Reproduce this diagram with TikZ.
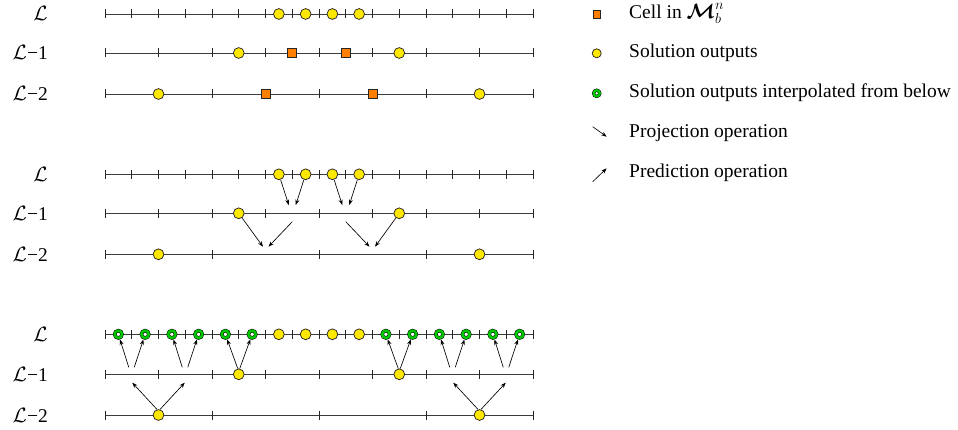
\documentclass[tikz,border=0pt]{standalone}
\usepackage{amsmath}
\usepackage{bm}
\usepackage{fontspec}
\setmainfont{Liberation Serif}
\usetikzlibrary{arrows.meta,calc}
\definecolor{solyel}{RGB}{255,232,0}
\definecolor{cellor}{RGB}{255,127,0}
\definecolor{intgreen}{RGB}{0,200,0}
\definecolor{axisgray}{RGB}{60,60,60}
\newcommand{\mylevel}[3]{%
  \coordinate (#1-a) at (105,#2);
  \coordinate (#1-b) at (533,#2);
  \draw[axisline] (#1-a) -- (#1-b);
  \foreach \k in {0,...,#3}{\draw[tickmark] ({105+\k*428/#3},{#2-4.5}) -- ++(0,9);}
  \foreach \k in {1,...,#3}{\coordinate (#1-\k) at ({105+(\k-0.5)*428/#3},#2);}
}
\tikzset{
  axisline/.style={draw=axisgray, line width=0.9pt},
  tickmark/.style={draw=black!85, line width=1pt},
  sol/.style={circle, draw=black!85, fill=solyel, line width=0.75pt, minimum size=10.8pt, inner sep=0pt},
  cellsq/.style={rectangle, draw=black!85, fill=cellor, line width=0.75pt, minimum size=9pt, inner sep=0pt},
  interp/.style={circle, draw=black, line width=0.5pt, double=intgreen, double distance=2.5pt, fill=white, minimum size=7.4pt, inner sep=0pt, outer sep=1.7pt},
  arr/.style={-{Stealth[length=5.5pt,width=4pt]}, line width=0.65pt, black},
  lvllabel/.style={anchor=base east, inner sep=0pt},
  legtext/.style={anchor=base west, inner sep=0pt},
  every node/.style={font=\fontsize{19.5}{22}\selectfont}
}
\begin{document}
\begin{tikzpicture}[x=1pt,y=-1pt]
\useasboundingbox (0,0) rectangle (958,430);
% ---------- panel A ----------
\mylevel{A0}{14}{16}
\mylevel{A1}{53}{8}
\mylevel{A2}{94}{4}
\node[lvllabel] (lA0) at (48,21) {$\mathcal{L}$};
\node[lvllabel] (lA1) at (48,60) {$\mathcal{L}$−1};
\node[lvllabel] (lA2) at (48,101) {$\mathcal{L}$−2};
\foreach \k in {7,...,10}{\node[sol] (A0c\k) at (A0-\k) {};}
\node[sol] (A1c3) at (A1-3) {};
\node[cellsq] (A1s4) at (A1-4) {};
\node[cellsq] (A1s5) at (A1-5) {};
\node[sol] (A1c6) at (A1-6) {};
\node[sol] (A2c1) at (A2-1) {};
\node[cellsq] (A2s2) at (A2-2) {};
\node[cellsq] (A2s3) at (A2-3) {};
\node[sol] (A2c4) at (A2-4) {};
% ---------- panel B ----------
\mylevel{B0}{174.3}{16}
\mylevel{B1}{213.3}{8}
\mylevel{B2}{254.3}{4}
\node[lvllabel] (lB0) at (48,181.3) {$\mathcal{L}$};
\node[lvllabel] (lB1) at (48,220.3) {$\mathcal{L}$−1};
\node[lvllabel] (lB2) at (48,261.3) {$\mathcal{L}$−2};
\foreach \k in {7,...,10}{\node[sol] (B0c\k) at (B0-\k) {};}
\node[sol] (B1c3) at (B1-3) {};
\node[sol] (B1c6) at (B1-6) {};
\node[sol] (B2c1) at (B2-1) {};
\node[sol] (B2c4) at (B2-4) {};
\draw[arr] (B0c7) -- ($(B1-4)+(-3.5,-8.3)$);
\draw[arr] (B0c8) -- ($(B1-4)+(3.5,-8.3)$);
\draw[arr] (B0c9) -- ($(B1-5)+(-3.5,-8.3)$);
\draw[arr] (B0c10) -- ($(B1-5)+(3.5,-8.3)$);
\draw[arr] (B1c3) -- ($(B2-2)+(-2.5,-7.6)$);
\draw[arr] ($(B1-4)+(0,8.4)$) -- ($(B2-2)+(3,-7.6)$);
\draw[arr] ($(B1-5)+(0,8.4)$) -- ($(B2-3)+(-3,-7.6)$);
\draw[arr] (B1c6) -- ($(B2-3)+(2.5,-7.6)$);
% ---------- panel C ----------
\mylevel{C0}{334.3}{16}
\mylevel{C1}{374.3}{8}
\mylevel{C2}{415}{4}
\node[lvllabel] (lC0) at (48,341.3) {$\mathcal{L}$};
\node[lvllabel] (lC1) at (48,381.3) {$\mathcal{L}$−1};
\node[lvllabel] (lC2) at (48,422) {$\mathcal{L}$−2};
\foreach \k in {1,...,6,11,12,...,16}{\node[interp] (C0c\k) at (C0-\k) {};}
\foreach \k in {7,...,10}{\node[sol] (C0c\k) at (C0-\k) {};}
\node[sol] (C1c3) at (C1-3) {};
\node[sol] (C1c6) at (C1-6) {};
\node[sol] (C2c1) at (C2-1) {};
\node[sol] (C2c4) at (C2-4) {};
% L-2 -> L-1
\draw[arr] (C2c1.105) -- ($(C1-1)+(0.5,8.4)$);
\draw[arr] (C2c1.75) -- ($(C1-2)+(-0.5,8.4)$);
\draw[arr] (C2c4.105) -- ($(C1-7)+(0.5,8.4)$);
\draw[arr] (C2c4.75) -- ($(C1-8)+(-0.5,8.4)$);
% L-1 -> L
\draw[arr] ($(C1-1)+(-3,-7)$) -- (C0c1);
\draw[arr] ($(C1-1)+(2.5,-7)$) -- (C0c2);
\draw[arr] ($(C1-2)+(-3,-7)$) -- (C0c3);
\draw[arr] ($(C1-2)+(2.5,-7)$) -- (C0c4);
\draw[arr] (C1c3.100) -- (C0c5);
\draw[arr] (C1c3.80) -- (C0c6);
\draw[arr] (C1c6.100) -- (C0c11);
\draw[arr] (C1c6.80) -- (C0c12);
\draw[arr] ($(C1-7)+(-3,-7)$) -- (C0c13);
\draw[arr] ($(C1-7)+(2.5,-7)$) -- (C0c14);
\draw[arr] ($(C1-8)+(-3,-7)$) -- (C0c15);
\draw[arr] ($(C1-8)+(2.5,-7)$) -- (C0c16);
% ---------- legend ----------
\node[cellsq, minimum size=7.5pt] (legsq) at (596.7,14.5) {};
\node[legtext] (legt1) at (629,18.5) {Cell in $\bm{\mathcal{M}}_b^n$};
\node[sol, minimum size=9pt] (legsol) at (596.7,53.3) {};
\node[legtext] (legt2) at (629,57.3) {Solution outputs};
\node[interp, minimum size=6.2pt, double distance=2.2pt] (legint) at (596.7,93.3) {};
\node[legtext] (legt3) at (629,97.3) {Solution outputs interpolated from below};
\coordinate (pjA) at (592.7,126.7);
\coordinate (pjB) at (606.7,136.7);
\draw[arr] (pjA) -- (pjB);
\node[legtext] (legt4) at (629,137.3) {Projection operation};
\coordinate (pdA) at (592.7,181.7);
\coordinate (pdB) at (606.7,168.3);
\draw[arr] (pdA) -- (pdB);
\node[legtext] (legt5) at (629,177.3) {Prediction operation};
\end{tikzpicture}
\end{document}
